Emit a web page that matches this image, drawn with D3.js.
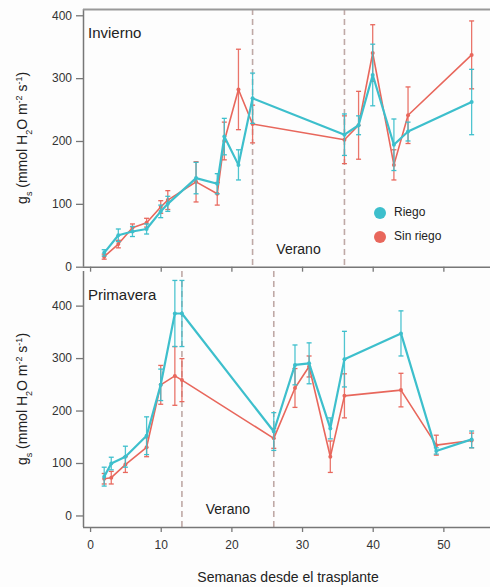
<!DOCTYPE html>
<html>
<head>
<meta charset="utf-8">
<script src="https://cdn.jsdelivr.net/npm/d3@7"></script>
<style>
  body { margin: 0; background: #fdfdfd; }
  svg { font-family: "Liberation Sans", Arial, sans-serif; }
</style>
</head>
<body>
<div id="chart"></div>
<script>
// Invierno (top panel)
const winterWeeks = [2, 4, 6, 8, 10, 11, 15, 18, 19, 21, 23, 36, 38, 40, 43, 45, 54];
const winterRiego = [22, 50, 56, 60, 88, 100, 141, 132, 207, 162, 268, 210, 225, 305, 194, 215, 262];
const winterRiegoErr = [5, 10, 8, 8, 10, 12, 25, 16, 29, 24, 40, 33, 15, 49, 41, 15, 52];
const winterSinRiego = [16, 36, 62, 70, 95, 106, 135, 116, 200, 282, 227, 202, 225, 340, 162, 241, 337];
const winterSinRiegoErr = [4, 6, 6, 7, 10, 15, 32, 18, 30, 64, 30, 38, 54, 45, 24, 45, 54];
const winterSummer = [23, 36];

// Primavera (bottom panel)
const springWeeks = [2, 3, 5, 8, 10, 12, 13, 26, 29, 31, 34, 36, 44, 49, 54];
const springRiego = [74, 99, 112, 152, 249, 385, 385, 160, 287, 290, 166, 298, 347, 123, 145];
const springRiegoErr = [18, 12, 20, 36, 30, 63, 63, 36, 38, 39, 20, 53, 43, 6, 16];
const springSinRiego = [70, 72, 97, 130, 249, 266, 258, 147, 243, 284, 112, 228, 239, 134, 143];
const springSinRiegoErr = [10, 12, 15, 18, 37, 56, 41, 19, 37, 20, 30, 42, 32, 19, 14];
const springSummer = [13, 26];

const xTicks = [0, 10, 20, 30, 40, 50];
const yTicks = [0, 100, 200, 300, 400];
const seriesNames = ["Riego", "Sin riego"];

const W = 490, H = 587;
const cyan = "#3dbfcc", red = "#e8675c";
const axisColor = "#777";

const svg = d3.select("#chart").append("svg")
    .attr("width", W)
    .attr("height", H);

const x = d3.scaleLinear().domain([-1, 56.6]).range([83, 490]);

function drawPanel(opts) {
    const { top, bottom, yDomain, weeks, riego, riegoErr, sin, sinErr, summer, label, showXLabels, veranoAt } = opts;
    const y = d3.scaleLinear().domain(yDomain).range([bottom, top]);
    const g = svg.append("g");

    // summer season dashed lines
    g.selectAll("line.season").data(summer).enter().append("line")
        .attr("x1", d => x(d)).attr("x2", d => x(d))
        .attr("y1", top).attr("y2", bottom)
        .attr("stroke", "#bfa9a6")
        .attr("stroke-width", 1.6)
        .attr("stroke-dasharray", "6,4");

    // axes
    const yAxis = g.append("g")
        .attr("transform", `translate(${x.range()[0]},0)`)
        .call(d3.axisLeft(y).tickValues(yTicks).tickSize(7).tickPadding(4));
    const xAxis = g.append("g")
        .attr("transform", `translate(0,${bottom})`)
        .call(d3.axisBottom(x).tickValues(xTicks).tickSize(5).tickPadding(8)
            .tickFormat(showXLabels ? d3.format("d") : () => ""));
    [yAxis, xAxis].forEach(a => {
        a.select(".domain").attr("stroke", axisColor).attr("stroke-width", 1.5);
        a.selectAll(".tick line").attr("stroke", axisColor).attr("stroke-width", 1.3);
        a.selectAll(".tick text").attr("fill", "#333").style("font-size", "12px");
    });
    // remove outer ticks of domain path
    yAxis.select(".domain").attr("d", `M0.5,${top}V${bottom}`);
    xAxis.select(".domain").attr("d", `M${x.range()[0]},0.5H${x.range()[1]}`);

    const series = [
        { name: seriesNames[1], vals: sin, err: sinErr, color: red, w: 1.6 },
        { name: seriesNames[0], vals: riego, err: riegoErr, color: cyan, w: 2.2 }
    ];

    const line = d3.line().x(d => x(d[0])).y(d => y(d[1]));

    series.forEach(s => {
        const pts = weeks.map((w, i) => [w, s.vals[i], s.err[i]]);
        const sg = g.append("g");
        sg.selectAll("line.err").data(pts).enter().append("line")
            .attr("x1", d => x(d[0])).attr("x2", d => x(d[0]))
            .attr("y1", d => y(d[1] - d[2])).attr("y2", d => y(d[1] + d[2]))
            .attr("stroke", s.color).attr("stroke-width", 1.3).attr("opacity", 0.9);
        [-1, 1].forEach(sign => {
            sg.selectAll(null).data(pts).enter().append("line")
                .attr("x1", d => x(d[0]) - 2.5).attr("x2", d => x(d[0]) + 2.5)
                .attr("y1", d => y(d[1] + sign * d[2])).attr("y2", d => y(d[1] + sign * d[2]))
                .attr("stroke", s.color).attr("stroke-width", 1.3);
        });
        sg.append("path").datum(pts)
            .attr("d", line)
            .attr("fill", "none")
            .attr("stroke", s.color)
            .attr("stroke-width", s.w)
            .attr("stroke-linejoin", "round");
        sg.selectAll("circle").data(pts).enter().append("circle")
            .attr("cx", d => x(d[0])).attr("cy", d => y(d[1]))
            .attr("r", 2).attr("fill", s.color);
    });

    // panel label
    g.append("text")
        .attr("x", 88).attr("y", top + 29)
        .style("font-size", "15px").attr("fill", "#222")
        .text(label);

    g.append("text")
        .attr("x", x(veranoAt[0])).attr("y", y(veranoAt[1]))
        .attr("text-anchor", "middle").attr("dominant-baseline", "middle")
        .style("font-size", "14px").attr("fill", "#222")
        .text("Verano");

    // y-axis title
    const yt = g.append("text")
        .attr("transform", `translate(27,${(top + bottom) / 2}) rotate(-90)`)
        .attr("text-anchor", "middle")
        .style("font-size", "14px").attr("fill", "#222");
    yt.append("tspan").text("g");
    yt.append("tspan").attr("baseline-shift", "sub").style("font-size", "9px").text("s");
    yt.append("tspan").text(" (mmol H");
    yt.append("tspan").attr("baseline-shift", "sub").style("font-size", "9px").text("2");
    yt.append("tspan").text("O m");
    yt.append("tspan").attr("baseline-shift", "super").style("font-size", "9px").text("-2");
    yt.append("tspan").text(" s");
    yt.append("tspan").attr("baseline-shift", "super").style("font-size", "9px").text("-1");
    yt.append("tspan").text(")");

    return { g, y };
}

const topPanel = drawPanel({
    top: 9, bottom: 266.7, yDomain: [0, 410],
    weeks: winterWeeks, riego: winterRiego, riegoErr: winterRiegoErr,
    sin: winterSinRiego, sinErr: winterSinRiegoErr, summer: winterSummer,
    label: "Invierno", showXLabels: false, veranoAt: [29.5, 26]
});
// top border of the upper panel
svg.append("line")
    .attr("x1", 83).attr("x2", 490).attr("y1", 9.5).attr("y2", 9.5)
    .attr("stroke", "#999").attr("stroke-width", 2);

drawPanel({
    top: 271, bottom: 527, yDomain: [-22, 466],
    weeks: springWeeks, riego: springRiego, riegoErr: springRiegoErr,
    sin: springSinRiego, sinErr: springSinRiegoErr, summer: springSummer,
    label: "Primavera", showXLabels: true, veranoAt: [19.5, 9]
});

// legend in the upper panel
const legend = svg.append("g").attr("transform", "translate(380,213)");
[cyan, red].forEach((c, i) => {
    legend.append("circle").attr("cx", 0).attr("cy", i * 24).attr("r", 6).attr("fill", c);
    legend.append("text").attr("x", 14).attr("y", i * 24)
        .attr("dominant-baseline", "middle")
        .style("font-size", "12px").attr("fill", "#222")
        .text(seriesNames[i]);
});

svg.append("text")
    .attr("x", 288).attr("y", 582)
    .attr("text-anchor", "middle")
    .style("font-size", "14px").attr("fill", "#222")
    .text("Semanas desde el trasplante");
</script>
</body>
</html>
